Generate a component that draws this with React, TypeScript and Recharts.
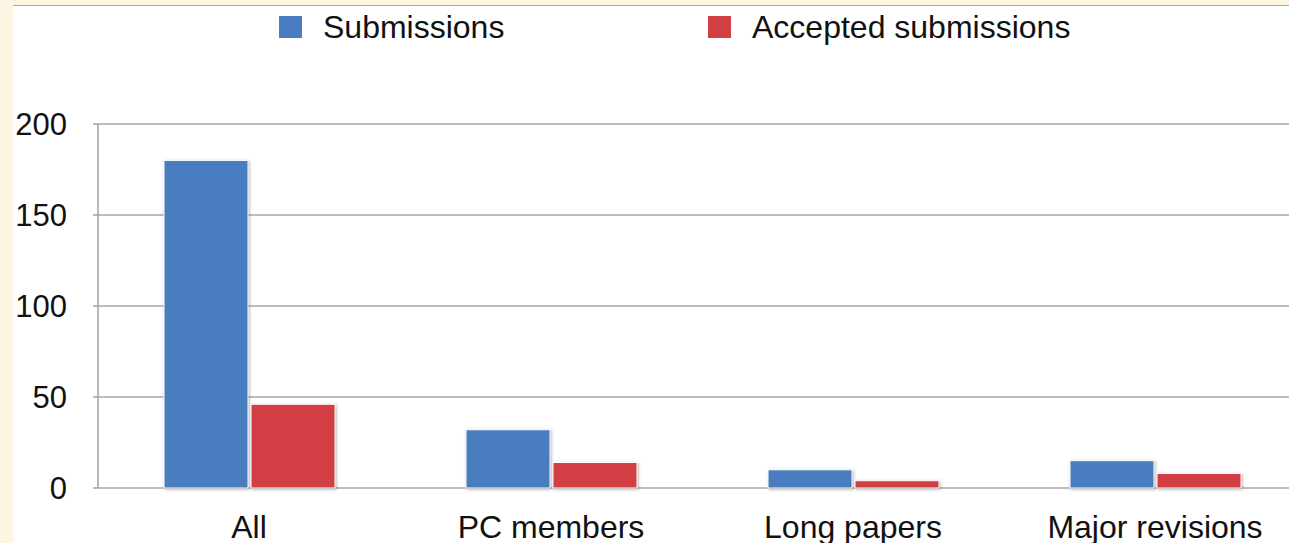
import React from 'react';
import { BarChart, Bar, XAxis, YAxis, CartesianGrid } from 'recharts';

const categories = ['All', 'PC members', 'Long papers', 'Major revisions'];
const submissions = [180, 32, 10, 15];
const accepted = [46, 14, 4, 8];
const yTicks = [0, 50, 100, 150, 200];
const boundaryTicks = [0, 1, 2, 3, 4];
const seriesNames = ['Submissions', 'Accepted submissions'];
const seriesColors = ['#4a7dc0', '#d13f45'];

const data = categories.map((c, i) => ({
  name: c,
  submissions: submissions[i],
  accepted: accepted[i],
}));

const FONT = '"Liberation Sans", Arial, Helvetica, sans-serif';

const ShadowBar = (props: any) => {
  const { x, y, width, height, fill } = props;
  if (!height || height <= 0) return null;
  return (
    <rect
      x={x}
      y={y}
      width={width}
      height={height}
      fill={fill}
      stroke="#ffffff"
      strokeWidth={1}
      style={{ filter: 'drop-shadow(1px 1px 1.5px rgba(0,0,0,0.3))' }}
    />
  );
};

const legendLefts = [279, 708];

export default function App() {
  return (
    <div
      style={{
        position: 'fixed',
        left: 0,
        top: 0,
        width: 1289,
        height: 543,
        overflow: 'hidden',
        background: '#fbf5e1',
        fontFamily: FONT,
      }}
    >
      <div
        style={{
          position: 'absolute',
          left: 13,
          top: 5,
          width: 1400,
          height: 600,
          background: '#ffffff',
          borderTop: '1px solid #a8a8a8',
        }}
      />
      {seriesNames.map((n, i) => (
        <div
          key={n}
          style={{
            position: 'absolute',
            left: legendLefts[i],
            top: 10,
            height: 34,
            display: 'flex',
            alignItems: 'center',
            whiteSpace: 'nowrap',
          }}
        >
          <div style={{ width: 23, height: 22, background: seriesColors[i] }} />
          <span style={{ marginLeft: 21, fontSize: 32, color: '#111' }}>{n}</span>
        </div>
      ))}
      <div style={{ position: 'absolute', left: 0, top: 0 }}>
        <BarChart
          width={1310}
          height={543}
          data={data}
          margin={{ top: 124, right: 4, left: 0, bottom: 0 }}
          barGap={3}
          barSize={84}
          style={{ fontFamily: FONT }}
        >
          <CartesianGrid xAxisId="cat" vertical={false} stroke="#a8a8a8" strokeWidth={1.5} />
          <XAxis
            xAxisId="edges"
            type="number"
            domain={[0, 4]}
            ticks={boundaryTicks}
            tickFormatter={() => ''}
            height={0}
            allowDataOverflow
            axisLine={{ stroke: '#a0a0a0', strokeWidth: 2 }}
            tickLine={{ stroke: '#a0a0a0', strokeWidth: 1.5 }}
            tickSize={6}
          />
          <XAxis
            xAxisId="cat"
            dataKey="name"
            height={55}
            axisLine={false}
            tickLine={false}
            tickSize={6}
            tickMargin={21}
            interval={0}
            tick={{ fill: '#111', fontSize: 32, fontFamily: FONT }}
          />
          <YAxis
            domain={[0, 200]}
            ticks={yTicks}
            width={98}
            tickSize={5}
            tickMargin={26}
            axisLine={{ stroke: '#a0a0a0', strokeWidth: 1.5 }}
            tickLine={{ stroke: '#a0a0a0', strokeWidth: 1.5 }}
            tick={{ fill: '#111', fontSize: 31, fontFamily: FONT }}
          />
          <Bar
            xAxisId="cat"
            dataKey="submissions"
            name={seriesNames[0]}
            fill={seriesColors[0]}
            shape={ShadowBar}
            isAnimationActive={false}
          />
          <Bar
            xAxisId="cat"
            dataKey="accepted"
            name={seriesNames[1]}
            fill={seriesColors[1]}
            shape={ShadowBar}
            isAnimationActive={false}
          />
        </BarChart>
      </div>
    </div>
  );
}
